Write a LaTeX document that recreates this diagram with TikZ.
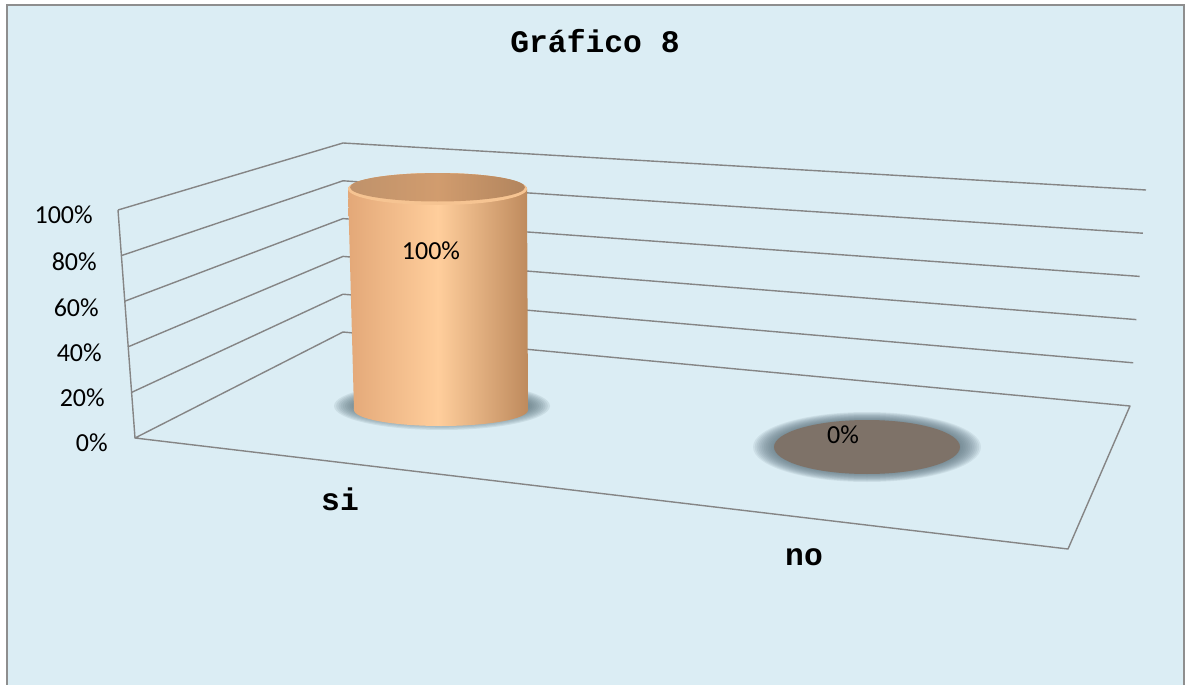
\documentclass[tikz,border=0pt]{standalone}
\usepackage{fontspec}
\setmainfont{Carlito}
\newfontfamily\courfont{Liberation Mono}
\usetikzlibrary{calc}
\definecolor{bg}{HTML}{DBEDF4}
\definecolor{framegray}{HTML}{8E8E8E}
\definecolor{gridgray}{HTML}{858585}
\definecolor{cylL}{HTML}{E3A878}
\definecolor{cylM}{HTML}{FFCE9C}
\definecolor{cylR}{HTML}{BE8A5D}
\definecolor{topD}{HTML}{D19C6E}
\definecolor{topL}{HTML}{F6C492}
\definecolor{shadowcol}{HTML}{5F7680}
\definecolor{nofill}{HTML}{7E7268}
\begin{document}
\begin{tikzpicture}[x=0.75pt,y=-0.75pt,
  gridline/.style={draw=gridgray, line width=1.05pt, line join=round},
  axlab/.style={anchor=base east, inner sep=0pt, font=\fontsize{19.5}{20}\selectfont},
  vallab/.style={anchor=base, inner sep=0pt, font=\fontsize{19.5}{20}\selectfont},
  catlab/.style={anchor=base, inner sep=0pt, font=\courfont\bfseries\fontsize{23.5}{25}\selectfont}]
\useasboundingbox (0,0) rectangle (1186,685);
\fill[white] (0,0) rectangle (1186,685);
\fill[bg] (7,5) rectangle (1184,685);
\draw[framegray, line width=1.5pt] (7,690) -- (7,5) -- (1184,5) -- (1184,690);

% title
\node[catlab] (title) at (595,53) {Gráfico 8};

% frame geometry
\coordinate (L0) at (135,438);
\coordinate (L5) at (118,210);
\coordinate (B0) at (343,332);
\coordinate (B5) at (343,143);
\coordinate (R0) at (1130,406);
\coordinate (R5) at (1146,190);
\coordinate (F) at (1068,549);

% floor
\draw[gridline] (L0) -- (B0) -- (R0) -- (F) -- cycle;
% left edge
\draw[gridline] (L0) -- (L5);
% grid lines
\foreach \i in {1,...,5}{
  \draw[gridline] ($(L0)!\i/5!(L5)$) -- ($(B0)!\i/5!(B5)$) -- ($(R0)!\i/5!(R5)$);
}

% axis labels
\node[axlab] (a100) at (93,223) {100\%};
\node[axlab] (a80) at (97,270) {80\%};
\node[axlab] (a60) at (99,316) {60\%};
\node[axlab] (a40) at (102,361) {40\%};
\node[axlab] (a20) at (105,406) {20\%};
\node[axlab] (a0) at (108,451) {0\%};

% shadow under cylinder
\foreach \k in {0,...,9}{
  \fill[shadowcol, opacity=0.13] (442,406) ellipse [x radius={108-2.2*\k}, y radius={24-1.1*\k}];
}
% cylinder body
\shade[left color=cylL, right color=cylR, middle color=cylM]
  (348,189) -- (354,410) arc[start angle=180, end angle=0, x radius=87, y radius=16]
  -- (527,189) arc[start angle=0, end angle=-180, x radius=89.5, y radius=16] -- cycle;
% cylinder top
\fill[topL] (437.5,189) ellipse [x radius=89.5, y radius=16];
\shade[left color=topD!90!black!95, right color=topD!85!black, middle color=topD] (437.5,187.3) ellipse [x radius=87.5, y radius=14.2];
\node[vallab] (v100) at (431,259) {100\%};

% "no" ellipse with glow
\foreach \k in {0,...,11}{
  \fill[shadowcol, opacity=0.11] (867,447) ellipse [x radius={114-1.8*\k}, y radius={35-0.75*\k}];
}
\fill[nofill] (867,447) ellipse [x radius=93, y radius=27];
\node[vallab] (v0) at (843,443) {0\%};

% category labels
\node[catlab] (si) at (340,510) {si};
\node[catlab] (no) at (804,565) {no};
\end{tikzpicture}
\end{document}
